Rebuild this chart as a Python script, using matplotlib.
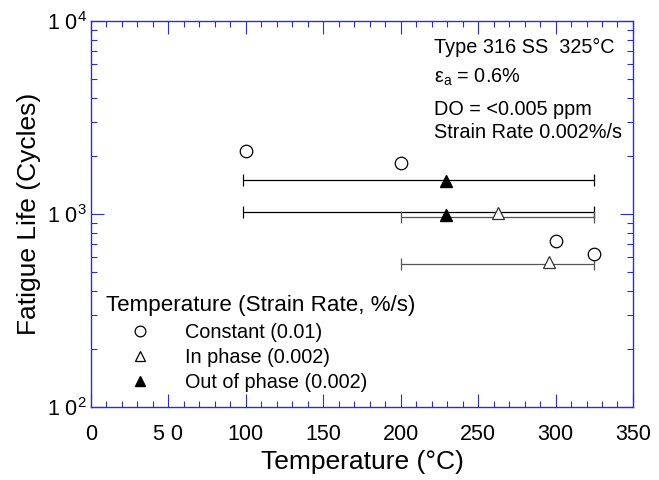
import numpy as np
import matplotlib
matplotlib.use('Agg')
import matplotlib.pyplot as plt
from matplotlib.ticker import FixedLocator, LogLocator, NullFormatter, FixedFormatter
from matplotlib.lines import Line2D

plt.rcParams['font.family'] = ['Liberation Sans', 'DejaVu Sans']
plt.rcParams['mathtext.fontset'] = 'custom'
plt.rcParams['mathtext.rm'] = 'Liberation Sans'
plt.rcParams['mathtext.it'] = 'Liberation Sans:italic'

# %% data
const_temp = [100, 200, 300, 325]
const_life = [2120, 1830, 724, 624]

inph_temp = [263, 296]
inph_life = [1012, 566]
inph_bar_life = [968, 552]
inph_bar_lo = [200, 200]
inph_bar_hi = [325, 325]

outph_temp = [229, 229]
outph_life = [1490, 995]
outph_bar_life = [1500, 1021]
outph_bar_lo = [98, 98]
outph_bar_hi = [325, 325]

xtick_vals = [0, 50, 100, 150, 200, 250, 300, 350]
xtick_labels = ['0', '5 0', '100', '150', '200', '250', '300', '350']
ytick_vals = [1e2, 1e3, 1e4]
ytick_labels = ['1 0$^2$', '1 0$^3$', '1 0$^4$']

blue = '#2b2be0'

# %%
fig = plt.figure(figsize=(6.59, 4.8), dpi=100)
ax = fig.add_axes([0.138, 0.152, 0.8225, 0.804])

# error bars (temperature ranges)
outph_x = np.array(outph_temp)
ax.errorbar(outph_x, outph_bar_life,
            xerr=[outph_x - np.array(outph_bar_lo), np.array(outph_bar_hi) - outph_x],
            fmt='none', ecolor='black', elinewidth=0.9, capsize=4.2, capthick=0.9)
inph_x = np.array(inph_temp)
ax.errorbar(inph_x, inph_bar_life,
            xerr=[inph_x - np.array(inph_bar_lo), np.array(inph_bar_hi) - inph_x],
            fmt='none', ecolor='#555555', elinewidth=0.9, capsize=4.2, capthick=0.9)

ax.plot(const_temp, const_life, 'o', ms=9, mfc='white', mec='black', mew=0.9, ls='none', zorder=5)
ax.plot(inph_temp, inph_life, '^', ms=9, mfc='white', mec='#333333', mew=0.9, ls='none', zorder=5)
ax.plot(outph_temp, outph_life, '^', ms=9, mfc='black', mec='black', ls='none', zorder=5)

ax.set_xlim(0, 350)
ax.set_yscale('log')
ax.set_ylim(1e2, 1e4)

ax.xaxis.set_major_locator(FixedLocator(xtick_vals))
ax.xaxis.set_major_formatter(FixedFormatter(xtick_labels))
ax.xaxis.set_minor_locator(FixedLocator(np.arange(0, 351, 10)))
ax.yaxis.set_major_locator(FixedLocator(ytick_vals))
ax.yaxis.set_major_formatter(FixedFormatter(ytick_labels))
ax.yaxis.set_minor_locator(LogLocator(base=10, subs=np.arange(2, 10)))
ax.yaxis.set_minor_formatter(NullFormatter())

ax.tick_params(which='both', direction='in', top=True, right=True, color=blue, width=0.8,
               labelsize=15.5, labelcolor='black')
ax.tick_params(which='major', length=9.5)
ax.tick_params(which='minor', length=4.5)
ax.tick_params(axis='x', which='major', pad=12)
ax.tick_params(axis='y', which='major', pad=3)
for s in ax.spines.values():
    s.set_color(blue)
    s.set_linewidth(1.0)

ax.set_xlabel('Temperature (°C)', fontsize=19, labelpad=4)
ax.set_ylabel('Fatigue Life (Cycles)', fontsize=19, labelpad=4)

# annotation
ax.text(0.632, 0.918, 'Type 316 SS  325°C', transform=ax.transAxes, fontsize=14.3)
ax.text(0.632, 0.840, 'ε$_{\\rm a}$ = 0.6%', transform=ax.transAxes, fontsize=14.3)
ax.text(0.632, 0.757, 'DO = <0.005 ppm', transform=ax.transAxes, fontsize=14.3)
ax.text(0.632, 0.698, 'Strain Rate 0.002%/s', transform=ax.transAxes, fontsize=14.3)

# legend
ax.text(0.0277, 0.264, 'Temperature (Strain Rate, %/s)', transform=ax.transAxes,
        fontsize=16.1, va='center', ha='left')
handles = [
    Line2D([], [], marker='o', ls='none', ms=7.7, mfc='white', mec='black', mew=0.9),
    Line2D([], [], marker='^', ls='none', ms=7.7, mfc='white', mec='black', mew=0.9),
    Line2D([], [], marker='^', ls='none', ms=7.7, mfc='black', mec='black'),
]
labels = ['Constant (0.01)', 'In phase (0.002)', 'Out of phase (0.002)']
leg = ax.legend(handles, labels, loc='upper left',
                bbox_to_anchor=(0.0277, 0.2176), frameon=False, fontsize=14.3,
                handlelength=3.42, handletextpad=0.55, labelspacing=0.29,
                borderpad=0, borderaxespad=0)

fig.savefig('out.png', dpi=100)
